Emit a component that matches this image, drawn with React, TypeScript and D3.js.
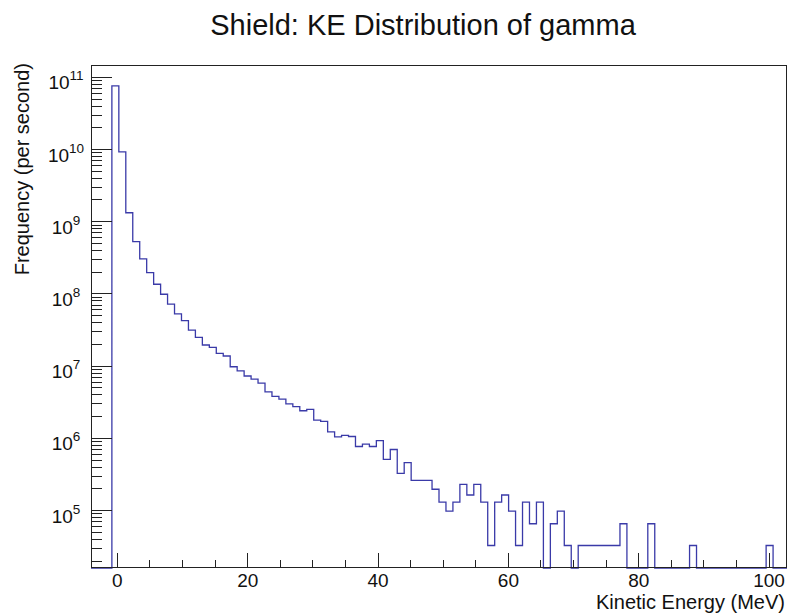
import React, { useEffect, useRef } from "react";
import * as d3 from "d3";

const title = "Shield: KE Distribution of gamma";
const xTitle = "Kinetic Energy (MeV)";
const yTitle = "Frequency (per second)";

// histogram x range, 100 equal bins
const xRange: [number, number] = [-4.05, 102.75];
// y range of the log axis
const yRange: [number, number] = [1.6e4, 1.48e11];

// bin contents (per second)
const binContents = [
  0, 0, 0, 7.6e10, 9.3e9, 1.33e9, 5.3e8, 3.05e8, 1.97e8, 1.36e8,
  9.9e7, 7.2e7, 5.3e7, 4.26e7, 3.16e7, 2.5e7, 1.96e7, 1.82e7, 1.5e7, 1.38e7,
  9.8e6, 8.6e6, 7.3e6, 6.6e6, 5.8e6, 4.4e6, 3.8e6, 3.5e6, 3.0e6, 2.74e6,
  2.41e6, 2.52e6, 1.79e6, 1.72e6, 1.23e6, 1.05e6, 1.1e6, 1.06e6, 7.7e5, 8.3e5,
  7.7e5, 9.3e5, 5.1e5, 7.0e5, 3.28e5, 4.6e5, 2.62e5, 2.62e5, 2.62e5, 1.97e5,
  1.31e5, 9.8e4, 1.31e5, 2.3e5, 1.64e5, 2.3e5, 1.31e5, 3.28e4, 1.31e5, 1.64e5,
  9.8e4, 3.28e4, 1.31e5, 6.56e4, 1.31e5, 0, 6.56e4, 9.8e4, 3.28e4, 0,
  3.28e4, 3.28e4, 3.28e4, 3.28e4, 3.28e4, 3.28e4, 6.56e4, 0, 0, 0,
  6.56e4, 0, 0, 0, 0, 0, 3.28e4, 0, 0, 0,
  0, 0, 0, 0, 0, 0, 0, 3.28e4, 0, 0,
];

const xMajorTicks = [0, 20, 40, 60, 80, 100];
const yDecades = [5, 6, 7, 8, 9, 10, 11];

const font = "'Liberation Sans', Arial, Helvetica, sans-serif";
const axisColor = "#222";
const lineColor = "#3a3aa8";

export default function App() {
  const ref = useRef<SVGSVGElement | null>(null);

  useEffect(() => {
    const width = 790;
    const height = 616;
    const frame = { left: 91, right: 787, top: 65, bottom: 568 };

    const svg = d3.select(ref.current);
    svg.selectAll("*").remove();
    svg.attr("width", width).attr("height", height);

    svg
      .append("rect")
      .attr("width", width)
      .attr("height", height)
      .attr("fill", "#fff");

    const x = d3.scaleLinear().domain(xRange).range([frame.left, frame.right]);
    const y = d3.scaleLog().domain(yRange).range([frame.bottom, frame.top]);

    // histogram outline (empty bins drop to the frame bottom, like ROOT)
    const bw = (xRange[1] - xRange[0]) / binContents.length;
    const pts: [number, number][] = [];
    binContents.forEach((c, i) => {
      const yy = c > 0 ? y(c) : frame.bottom;
      pts.push([x(xRange[0] + i * bw), yy]);
      pts.push([x(xRange[0] + (i + 1) * bw), yy]);
    });
    svg
      .append("path")
      .attr("d", d3.line()(pts) ?? "")
      .attr("fill", "none")
      .attr("stroke", lineColor)
      .attr("stroke-width", 1.3);

    const axes = svg.append("g").attr("shape-rendering", "crispEdges");

    // frame
    axes
      .append("rect")
      .attr("x", frame.left + 0.5)
      .attr("y", frame.top + 0.5)
      .attr("width", frame.right - frame.left - 1)
      .attr("height", frame.bottom - frame.top - 1)
      .attr("fill", "none")
      .attr("stroke", axisColor)
      .attr("stroke-width", 1);

    // x ticks
    const xMinor = d3
      .range(Math.ceil(xRange[0] / 5) * 5, xRange[1], 5)
      .filter((v) => !xMajorTicks.includes(v));
    xMinor.forEach((v) => {
      axes
        .append("line")
        .attr("x1", x(v))
        .attr("x2", x(v))
        .attr("y1", frame.bottom)
        .attr("y2", frame.bottom - 8)
        .attr("stroke", axisColor);
    });
    xMajorTicks.forEach((v) => {
      axes
        .append("line")
        .attr("x1", x(v))
        .attr("x2", x(v))
        .attr("y1", frame.bottom)
        .attr("y2", frame.bottom - 15)
        .attr("stroke", axisColor);
      svg
        .append("text")
        .attr("x", x(v))
        .attr("y", 587)
        .attr("text-anchor", "middle")
        .style("font-family", font)
        .style("font-size", "19px")
        .attr("fill", "#111")
        .text(String(v));
    });

    // y ticks (log)
    yDecades.forEach((e) => {
      const base = Math.pow(10, e);
      axes
        .append("line")
        .attr("x1", frame.left)
        .attr("x2", frame.left + 21)
        .attr("y1", y(base))
        .attr("y2", y(base))
        .attr("stroke", axisColor);
      const label = svg
        .append("text")
        .attr("x", 66)
        .attr("y", y(base) + 12)
        .attr("text-anchor", "middle")
        .style("font-family", font)
        .style("font-size", "19px")
        .attr("fill", "#111");
      label.append("tspan").text("10");
      label
        .append("tspan")
        .attr("dy", -9)
        .style("font-size", "13.5px")
        .text(String(e));
    });
    for (let e = 4; e <= 11; e++) {
      for (let m = 2; m <= 9; m++) {
        const v = m * Math.pow(10, e);
        if (v < yRange[0] || v > yRange[1]) continue;
        axes
          .append("line")
          .attr("x1", frame.left)
          .attr("x2", frame.left + 11)
          .attr("y1", y(v))
          .attr("y2", y(v))
          .attr("stroke", axisColor);
      }
    }

    // titles
    svg
      .append("text")
      .attr("x", 423)
      .attr("y", 35)
      .attr("text-anchor", "middle")
      .style("font-family", font)
      .style("font-size", "29px")
      .attr("fill", "#111")
      .text(title);

    svg
      .append("text")
      .attr("x", frame.right - 2)
      .attr("y", 609)
      .attr("text-anchor", "end")
      .style("font-family", font)
      .style("font-size", "20px")
      .attr("fill", "#111")
      .text(xTitle);

    svg
      .append("text")
      .attr("transform", `translate(29,${frame.top - 2}) rotate(-90)`)
      .attr("text-anchor", "end")
      .style("font-family", font)
      .style("font-size", "20px")
      .attr("fill", "#111")
      .text(yTitle);
  }, []);

  return (
    <svg
      ref={ref}
      style={{ position: "absolute", left: 0, top: 0, display: "block" }}
    ></svg>
  );
}
